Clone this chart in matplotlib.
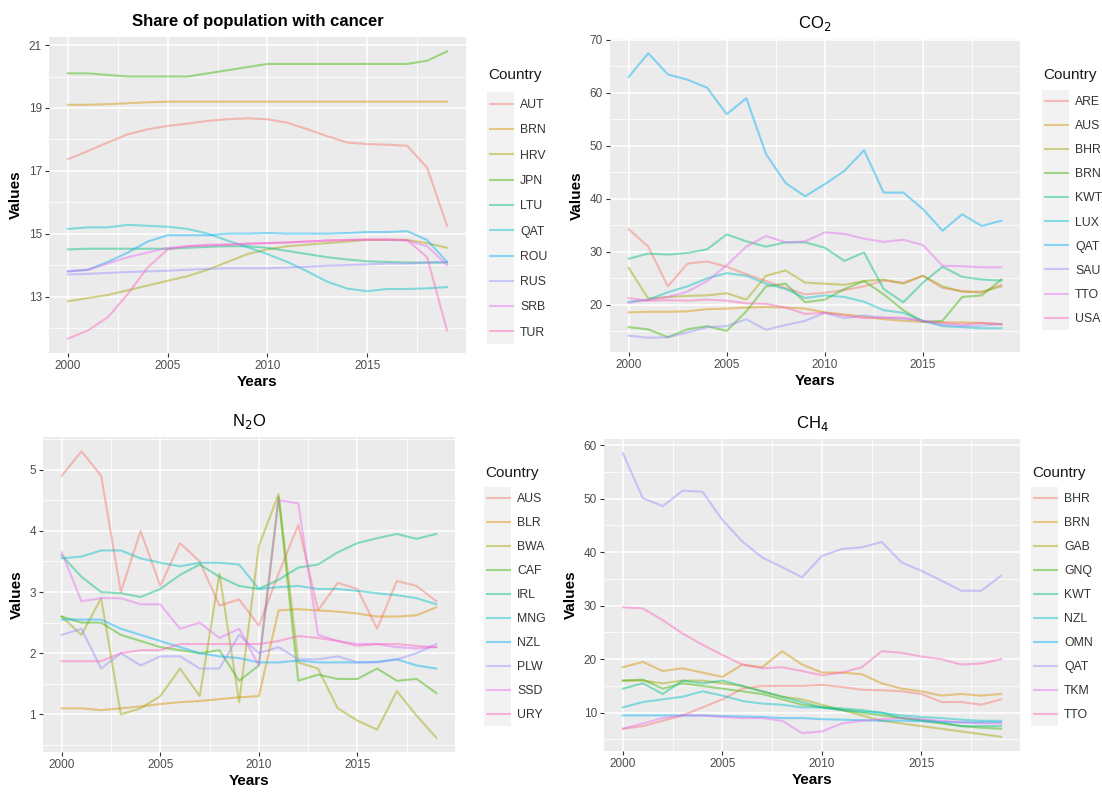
import numpy as np
import matplotlib
matplotlib.use("Agg")
import matplotlib.pyplot as plt
from matplotlib.patches import Rectangle
from matplotlib.lines import Line2D

plt.rcParams['font.family'] = ['Liberation Sans', 'DejaVu Sans']

years = list(range(2000, 2020))
HUE10 = ['#F8766D', '#D89000', '#A3A500', '#39B600', '#00BF7D',
         '#00BFC4', '#00B0F6', '#9590FF', '#E76BF3', '#FF62BC']

# ---- Share of population with cancer ----
cancer_countries = ['AUT', 'BRN', 'HRV', 'JPN', 'LTU', 'QAT', 'ROU', 'RUS', 'SRB', 'TUR']
cancer_AUT = [17.37, 17.63, 17.9, 18.16, 18.32, 18.43, 18.5, 18.59, 18.64, 18.67, 18.64, 18.53, 18.32, 18.1, 17.9, 17.85, 17.83, 17.8, 17.1, 15.25]
cancer_BRN = [19.1, 19.1, 19.12, 19.15, 19.18, 19.2, 19.2, 19.2, 19.2, 19.2, 19.2, 19.2, 19.2, 19.2, 19.2, 19.2, 19.2, 19.2, 19.2, 19.2]
cancer_HRV = [12.85, 12.95, 13.05, 13.2, 13.35, 13.5, 13.65, 13.85, 14.1, 14.35, 14.5, 14.6, 14.65, 14.7, 14.75, 14.8, 14.8, 14.8, 14.7, 14.55]
cancer_JPN = [20.1, 20.1, 20.05, 20.0, 20.0, 20.0, 20.0, 20.1, 20.2, 20.3, 20.4, 20.4, 20.4, 20.4, 20.4, 20.4, 20.4, 20.4, 20.5, 20.8]
cancer_LTU = [14.5, 14.52, 14.52, 14.52, 14.52, 14.52, 14.55, 14.58, 14.6, 14.6, 14.55, 14.45, 14.35, 14.25, 14.18, 14.12, 14.1, 14.08, 14.08, 14.08]
cancer_QAT = [15.15, 15.2, 15.2, 15.28, 15.25, 15.22, 15.15, 15.0, 14.78, 14.57, 14.35, 14.1, 13.8, 13.47, 13.25, 13.17, 13.24, 13.24, 13.26, 13.3]
cancer_ROU = [13.8, 13.85, 14.1, 14.4, 14.75, 14.95, 14.95, 14.95, 15.0, 15.0, 15.02, 15.0, 15.0, 15.0, 15.02, 15.05, 15.05, 15.08, 14.8, 14.1]
cancer_RUS = [13.7, 13.72, 13.75, 13.78, 13.8, 13.82, 13.85, 13.88, 13.9, 13.9, 13.9, 13.92, 13.95, 13.98, 14.0, 14.02, 14.05, 14.05, 14.08, 14.1]
cancer_SRB = [13.8, 13.85, 14.05, 14.25, 14.4, 14.55, 14.6, 14.65, 14.65, 14.68, 14.7, 14.72, 14.75, 14.78, 14.8, 14.8, 14.8, 14.78, 14.6, 14.0]
cancer_TUR = [11.66, 11.92, 12.34, 13.08, 13.93, 14.5, 14.6, 14.62, 14.65, 14.68, 14.7, 14.72, 14.75, 14.78, 14.8, 14.82, 14.82, 14.8, 14.25, 11.92]
cancer_values = [cancer_AUT, cancer_BRN, cancer_HRV, cancer_JPN, cancer_LTU,
                 cancer_QAT, cancer_ROU, cancer_RUS, cancer_SRB, cancer_TUR]
cancer_ticks = [13, 15, 17, 19, 21]

# ---- CO2 ----
co2_countries = ['ARE', 'AUS', 'BHR', 'BRN', 'KWT', 'LUX', 'QAT', 'SAU', 'TTO', 'USA']
co2_ARE = [34.3, 31.0, 23.5, 27.8, 28.2, 27.2, 25.8, 24.5, 23.2, 22.0, 22.3, 22.8, 23.5, 24.6, 24.2, 25.5, 23.2, 22.6, 22.3, 23.8]
co2_AUS = [18.6, 18.7, 18.7, 18.8, 19.2, 19.3, 19.5, 19.6, 19.5, 19.3, 18.6, 18.2, 17.8, 17.3, 17.0, 16.8, 16.7, 16.7, 16.6, 16.4]
co2_BHR = [27.0, 21.2, 21.5, 21.7, 21.8, 22.2, 21.0, 25.5, 26.5, 24.2, 24.0, 23.8, 24.5, 24.8, 24.0, 25.5, 23.5, 22.5, 22.5, 23.5]
co2_BRN = [15.8, 15.4, 13.9, 15.4, 16.0, 15.1, 18.8, 23.5, 24.0, 20.5, 21.0, 23.0, 24.5, 22.0, 19.0, 16.8, 17.0, 21.5, 21.8, 24.8]
co2_KWT = [28.7, 29.7, 29.5, 29.8, 30.5, 33.3, 32.0, 31.0, 31.8, 31.8, 30.8, 28.3, 29.9, 23.0, 20.5, 24.2, 27.2, 25.3, 24.8, 24.6]
co2_LUX = [20.6, 21.0, 22.4, 23.5, 25.0, 26.0, 25.5, 24.0, 23.0, 21.3, 21.8, 21.5, 20.6, 19.0, 18.5, 17.0, 16.0, 15.8, 15.6, 15.6]
co2_QAT = [63.0, 67.5, 63.5, 62.5, 61.0, 56.0, 59.0, 48.5, 43.0, 40.5, 42.8, 45.3, 49.2, 41.2, 41.2, 38.1, 34.0, 37.1, 34.9, 35.9]
co2_SAU = [14.2, 13.8, 13.9, 14.8, 15.8, 16.0, 17.3, 15.3, 16.2, 17.0, 18.5, 17.5, 18.0, 17.6, 17.4, 17.0, 16.2, 16.0, 16.1, 16.4]
co2_TTO = [20.4, 20.9, 21.5, 22.5, 24.5, 27.5, 31.0, 33.0, 31.8, 32.0, 33.7, 33.4, 32.5, 31.9, 32.3, 31.3, 27.4, 27.3, 27.1, 27.1]
co2_USA = [21.3, 20.8, 20.9, 20.8, 21.0, 20.8, 20.3, 20.2, 19.5, 18.3, 18.5, 18.0, 17.5, 17.6, 17.6, 17.0, 16.6, 16.3, 16.6, 16.3]
co2_values = [co2_ARE, co2_AUS, co2_BHR, co2_BRN, co2_KWT,
              co2_LUX, co2_QAT, co2_SAU, co2_TTO, co2_USA]
co2_ticks = [20, 30, 40, 50, 60, 70]

# ---- N2O ----
n2o_countries = ['AUS', 'BLR', 'BWA', 'CAF', 'IRL', 'MNG', 'NZL', 'PLW', 'SSD', 'URY']
n2o_AUS = [4.9, 5.3, 4.9, 3.0, 4.0, 3.1, 3.8, 3.5, 2.78, 2.88, 2.45, 3.3, 4.1, 2.7, 3.15, 3.05, 2.4, 3.18, 3.1, 2.85]
n2o_BLR = [1.1, 1.1, 1.07, 1.1, 1.13, 1.17, 1.2, 1.22, 1.25, 1.28, 1.3, 2.7, 2.72, 2.7, 2.68, 2.65, 2.6, 2.6, 2.62, 2.75]
n2o_BWA = [2.6, 2.3, 2.9, 1.0, 1.1, 1.3, 1.75, 1.3, 3.3, 1.2, 3.75, 4.6, 1.85, 1.75, 1.1, 0.9, 0.75, 1.38, 0.98, 0.62]
n2o_CAF = [2.6, 2.5, 2.5, 2.3, 2.2, 2.1, 2.05, 2.0, 2.05, 1.55, 1.8, 4.55, 1.55, 1.65, 1.58, 1.58, 1.75, 1.55, 1.58, 1.35]
n2o_IRL = [3.6, 3.25, 3.0, 2.98, 2.92, 3.05, 3.28, 3.45, 3.25, 3.1, 3.05, 3.2, 3.4, 3.45, 3.65, 3.8, 3.88, 3.95, 3.87, 3.95]
n2o_MNG = [3.55, 3.58, 3.68, 3.68, 3.55, 3.48, 3.42, 3.48, 3.48, 3.45, 3.05, 3.08, 3.1, 3.05, 3.05, 3.02, 2.98, 2.95, 2.9, 2.8]
n2o_NZL = [2.55, 2.55, 2.55, 2.4, 2.3, 2.2, 2.1, 2.0, 1.95, 1.92, 1.85, 1.85, 1.88, 1.85, 1.85, 1.85, 1.86, 1.9, 1.8, 1.75]
n2o_PLW = [2.3, 2.4, 1.75, 2.0, 1.8, 1.95, 1.95, 1.75, 1.75, 2.3, 2.0, 2.1, 1.9, 1.9, 1.95, 1.85, 1.85, 1.9, 2.0, 2.15]
n2o_SSD = [3.65, 2.85, 2.9, 2.9, 2.8, 2.8, 2.4, 2.5, 2.25, 2.4, 1.8, 4.5, 4.45, 2.3, 2.2, 2.15, 2.15, 2.1, 2.08, 2.1]
n2o_URY = [1.87, 1.87, 1.87, 2.0, 2.05, 2.05, 2.15, 2.15, 2.15, 2.15, 2.15, 2.2, 2.28, 2.25, 2.2, 2.12, 2.15, 2.15, 2.12, 2.1]
n2o_values = [n2o_AUS, n2o_BLR, n2o_BWA, n2o_CAF, n2o_IRL,
              n2o_MNG, n2o_NZL, n2o_PLW, n2o_SSD, n2o_URY]
n2o_ticks = [1, 2, 3, 4, 5]

# ---- CH4 ----
ch4_countries = ['BHR', 'BRN', 'GAB', 'GNQ', 'KWT', 'NZL', 'OMN', 'QAT', 'TKM', 'TTO']
ch4_BHR = [7.0, 7.5, 8.5, 9.5, 11.0, 12.5, 14.5, 15.0, 15.0, 15.0, 15.2, 14.8, 14.3, 14.2, 14.0, 13.5, 12.0, 12.0, 11.5, 12.5]
ch4_BRN = [18.5, 19.5, 17.8, 18.3, 17.5, 16.7, 19.0, 18.5, 21.5, 19.0, 17.5, 17.5, 17.2, 15.5, 14.5, 14.0, 13.2, 13.5, 13.2, 13.5]
ch4_GAB = [16.0, 16.0, 15.5, 16.0, 16.0, 15.5, 15.0, 14.0, 13.0, 12.5, 11.5, 10.5, 9.5, 8.5, 8.0, 7.5, 7.0, 6.5, 6.0, 5.5]
ch4_GNQ = [16.0, 16.2, 14.5, 15.5, 15.0, 14.5, 14.0, 13.5, 12.5, 11.5, 11.0, 10.5, 10.0, 9.5, 9.0, 8.5, 8.0, 7.5, 7.2, 7.0]
ch4_KWT = [14.5, 15.5, 13.5, 16.0, 15.5, 16.0, 15.0, 14.0, 13.0, 12.0, 11.0, 10.8, 10.5, 10.0, 9.0, 8.7, 8.2, 7.5, 7.5, 7.5]
ch4_NZL = [11.0, 12.0, 12.5, 13.0, 14.0, 13.2, 12.2, 11.7, 11.5, 11.0, 11.0, 10.5, 10.2, 10.0, 9.5, 9.2, 9.0, 8.7, 8.5, 8.5]
ch4_OMN = [9.5, 9.5, 9.5, 9.5, 9.5, 9.4, 9.3, 9.2, 9.0, 9.0, 8.8, 8.7, 8.6, 8.5, 8.5, 8.4, 8.3, 8.2, 8.2, 8.2]
ch4_QAT = [58.5, 50.1, 48.6, 51.5, 51.3, 46.0, 42.0, 39.0, 37.2, 35.3, 39.3, 40.6, 40.9, 41.9, 38.1, 36.5, 34.7, 32.8, 32.8, 35.6]
ch4_TKM = [7.0, 8.0, 9.0, 9.5, 9.5, 9.2, 9.0, 9.0, 8.5, 6.2, 6.5, 8.0, 8.5, 8.8, 9.0, 8.8, 8.5, 8.2, 8.0, 8.0]
ch4_TTO = [29.7, 29.5, 27.3, 24.8, 22.7, 20.8, 19.0, 18.3, 18.5, 17.8, 17.0, 17.5, 18.5, 21.5, 21.2, 20.5, 20.0, 19.0, 19.2, 20.0]
ch4_values = [ch4_BHR, ch4_BRN, ch4_GAB, ch4_GNQ, ch4_KWT,
              ch4_NZL, ch4_OMN, ch4_QAT, ch4_TKM, ch4_TTO]
ch4_ticks = [10, 20, 30, 40, 50, 60]

x_ticks = [2000, 2005, 2010, 2015]

W, H = 1102, 792
fig = plt.figure(figsize=(W / 100, H / 100), dpi=100)
fig.patch.set_facecolor('white')


def px_rect(l, t, r, b):
    return [l / W, 1 - b / H, (r - l) / W, (b - t) / H]


panels = [
    dict(rect=px_rect(49, 37, 466, 353), title='Share of population with cancer', bold=True,
         countries=cancer_countries, values=cancer_values, ticks=cancer_ticks,
         key_x=490, title_y=75, first_y=105, gap=25.2),
    dict(rect=px_rect(610, 39, 1020, 352), title='CO$_2$', bold=False,
         countries=co2_countries, values=co2_values, ticks=co2_ticks,
         key_x=1045, title_y=75, first_y=102, gap=24.0),
    dict(rect=px_rect(43, 437, 455, 752), title='N$_2$O', bold=False,
         countries=n2o_countries, values=n2o_values, ticks=n2o_ticks,
         key_x=487, title_y=473, first_y=499, gap=23.9),
    dict(rect=px_rect(604, 439, 1020, 751), title='CH$_4$', bold=False,
         countries=ch4_countries, values=ch4_values, ticks=ch4_ticks,
         key_x=1034, title_y=473, first_y=499, gap=23.9),
]

GRAY_BG = '#EBEBEB'
LW, ALPHA = 1.5, 0.45
FS_LEG = 8.8
fs_px = FS_LEG * 100 / 72.0
row_h = 11.9

for p in panels:
    ax = fig.add_axes(p['rect'])
    ax.set_facecolor(GRAY_BG)
    for s in ax.spines.values():
        s.set_visible(False)
    for name, vals, col in zip(p['countries'], p['values'], HUE10):
        ax.plot(years, vals, color=col, lw=LW, alpha=ALPHA, label=name,
                solid_joinstyle='round')
    allv = np.concatenate([np.asarray(v) for v in p['values']])
    lo, hi = allv.min(), allv.max()
    pad = (hi - lo) * 0.05
    ax.set_xlim(2000 - 19 * 0.05, 2019 + 19 * 0.05)
    ax.set_xticks(x_ticks)
    ax.set_xticklabels([str(t) for t in x_ticks])
    ax.set_yticks(p['ticks'])
    ax.set_yticklabels([str(t) for t in p['ticks']])
    tk = p['ticks']
    step = tk[1] - tk[0]
    ax.set_xticks([2002.5, 2007.5, 2012.5, 2017.5], minor=True)
    ax.set_yticks([t - step / 2 for t in tk] + [tk[-1] + step / 2], minor=True)
    ax.set_ylim(lo - pad, hi + pad)
    ax.grid(which='major', color='white', lw=1.1)
    ax.grid(which='minor', color='white', lw=0.55)
    ax.set_axisbelow(True)
    ax.tick_params(which='major', length=3, width=0.8, color='#333333',
                   labelsize=8.5, labelcolor='#4D4D4D', pad=2)
    ax.tick_params(which='minor', length=0)
    ax.set_xlabel('Years', fontsize=11, fontweight='bold', labelpad=2)
    ax.set_ylabel('Values', fontsize=11, fontweight='bold', labelpad=4)
    ax.set_title(p['title'], fontsize=12, fontweight='bold' if p['bold'] else 'normal',
                 pad=8)

    # legend
    kx = p['key_x']
    n = len(p['countries'])
    first, gap = p['first_y'], p['gap']
    last = first + gap * (n - 1)
    fig.patches.append(Rectangle(((kx - 3) / W, 1 - (last + gap / 2) / H),
                                 27 / W, (last - first + gap) / H,
                                 transform=fig.transFigure, facecolor='#F2F2F2',
                                 edgecolor='none', zorder=-5))
    fig.text((kx - 2) / W, 1 - p['title_y'] / H, 'Country', fontsize=11,
             color='#1a1a1a', ha='left', va='center')
    labelspacing = (gap - row_h) / fs_px
    leg = ax.legend(handles=[Line2D([], [], color=c, lw=LW, alpha=ALPHA) for c in HUE10],
                    labels=p['countries'], loc='upper left',
                    bbox_to_anchor=(kx / W, 1 - (first - row_h / 2) / H),
                    bbox_transform=fig.transFigure,
                    frameon=False, fontsize=FS_LEG,
                    handlelength=23 / fs_px, handletextpad=7 / fs_px,
                    labelspacing=labelspacing, borderaxespad=0, borderpad=0)
    leg.set_zorder(10)
    for t in leg.get_texts():
        t.set_color('#333333')

fig.savefig('out.png', dpi=100)
